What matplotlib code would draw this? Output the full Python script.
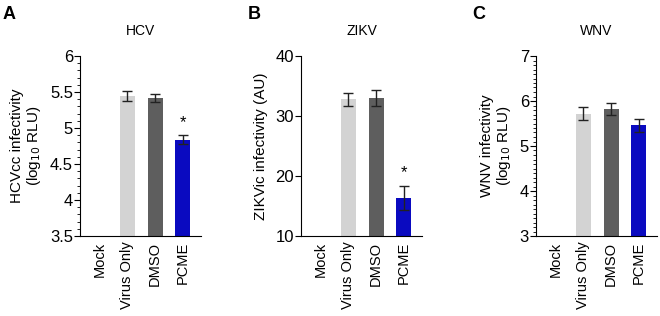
import matplotlib
matplotlib.use('Agg')
import matplotlib.pyplot as plt
from matplotlib.ticker import MultipleLocator

plt.rcParams['font.family'] = ['Liberation Sans', 'DejaVu Sans']

categories = ['Mock', 'Virus Only', 'DMSO', 'PCME']
colors = ['#d0d0d0', '#d3d3d3', '#5e5e5e', '#0a0ac0']

# panel data (Mock has no bar: value at axis floor)
hcv_mean = [None, 5.44, 5.42, 4.84]
hcv_err = [None, 0.07, 0.055, 0.06]
zikv_mean = [None, 32.8, 33.0, 16.4]
zikv_err = [None, 1.1, 1.3, 2.0]
wnv_mean = [None, 5.72, 5.82, 5.46]
wnv_err = [None, 0.14, 0.13, 0.15]

panels = [
    dict(letter='A', title='HCV', mean=hcv_mean, err=hcv_err,
         ylim=(3.5, 6), major=0.5, minor=0.1,
         ylabel='HCVcc infectivity\n(log$_{10}$ RLU)', ticklabels=['3.5', '4', '4.5', '5', '5.5', '6'],
         star=True, left=80, letter_x=3),
    dict(letter='B', title='ZIKV', mean=zikv_mean, err=zikv_err,
         ylim=(10, 40), major=10, minor=None,
         ylabel='ZIKVic infectivity (AU)', ticklabels=None,
         star=True, left=301, letter_x=248),
    dict(letter='C', title='WNV', mean=wnv_mean, err=wnv_err,
         ylim=(3, 7), major=1, minor=0.1,
         ylabel='WNV infectivity\n(log$_{10}$ RLU)', ticklabels=None,
         star=False, left=536, letter_x=472),
]

W, H = 660, 316
fig = plt.figure(figsize=(W / 100, H / 100), dpi=100)

for p in panels:
    ax = fig.add_axes([p['left'] / W, 1 - 236 / H, 121 / W, 180 / H])
    xs = list(range(len(categories)))
    for x, m, e, c in zip(xs, p['mean'], p['err'], colors):
        if m is None:
            continue
        ax.bar(x, m - p['ylim'][0], bottom=p['ylim'][0], width=0.54, color=c, zorder=2)
        ax.errorbar(x, m, yerr=e, fmt='none', ecolor='#222222', elinewidth=1,
                    capsize=3.5, capthick=1, zorder=3)
    if p['star']:
        m, e = p['mean'][3], p['err'][3]
        span = p['ylim'][1] - p['ylim'][0]
        ax.text(3, m + e + span * 0.03, '*', ha='center', va='bottom', fontsize=12)
    ax.set_xlim(-0.7, 3.65)
    ax.set_ylim(*p['ylim'])
    ax.yaxis.set_major_locator(MultipleLocator(p['major']))
    if p['minor']:
        ax.yaxis.set_minor_locator(MultipleLocator(p['minor']))
    if p['ticklabels']:
        ax.set_yticks([p['ylim'][0] + i * p['major'] for i in range(len(p['ticklabels']))])
        ax.set_yticklabels(p['ticklabels'])
    ax.set_xticks(xs)
    ax.set_xticklabels(categories, rotation=90, fontsize=10.5)
    ax.tick_params(axis='x', length=0, pad=4)
    ax.tick_params(axis='y', which='major', length=4, width=0.8, labelsize=12, pad=1)
    ax.tick_params(axis='y', which='minor', length=2, width=0.6)
    for s in ['top', 'right']:
        ax.spines[s].set_visible(False)
    for s in ['left', 'bottom']:
        ax.spines[s].set_linewidth(0.8)
    ax.set_title(p['title'], fontsize=10, pad=15)
    ax.set_ylabel(p['ylabel'], fontsize=11, labelpad=5, linespacing=1.1)
    fig.text(p['letter_x'] / W, 1 - 6 / H, p['letter'], fontsize=13, fontweight='bold',
             ha='left', va='top')

fig.savefig('out.png', dpi=100)
